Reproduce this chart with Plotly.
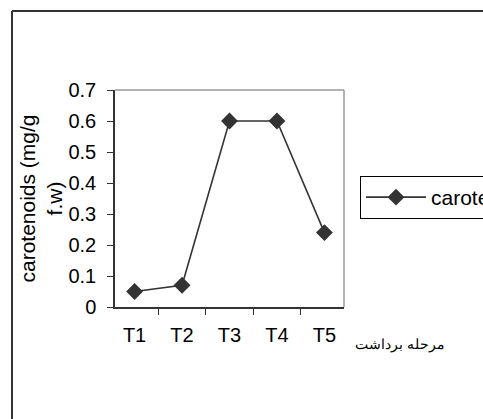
import plotly.graph_objects as go

stages = ["T1", "T2", "T3", "T4", "T5"]
carotenoids = [0.05, 0.07, 0.60, 0.60, 0.24]
series_name = "carotenoids"
y_title = "carotenoids (mg/g<br>f.w)"
x_title = "مرحله برداشت"

W, H = 483, 419
L, R, T, B = 115, 344, 90, 307

fig = go.Figure()
fig.add_trace(go.Scatter(
    x=stages, y=carotenoids, mode="lines+markers", name=series_name,
    line=dict(color="#333333", width=1.6),
    marker=dict(symbol="diamond", size=13, color="#333333"),
))

def px(xp):
    return (xp - L) / (R - L)

def py(yp):
    return (B - yp) / (B - T)

fig.update_layout(
    width=W, height=H,
    margin=dict(l=L, r=W - R, t=T, b=H - B, autoexpand=False),
    paper_bgcolor="white", plot_bgcolor="white",
    font=dict(family="Liberation Sans, Arial", size=20, color="black"),
    showlegend=True,
    legend=dict(x=px(360), y=py(176), xanchor="left", yanchor="top",
                bordercolor="black", borderwidth=1, bgcolor="white",
                font=dict(size=21), itemwidth=60),
    xaxis=dict(type="category", showgrid=False, showline=True, linecolor="#333333",
               linewidth=1.5, ticks="outside", tickson="boundaries", ticklen=6,
               tickcolor="#333333", tickfont=dict(size=20), zeroline=False,
               ticklabelstandoff=9),
    yaxis=dict(range=[0, 0.7], dtick=0.1, showgrid=False, showline=True,
               linecolor="#333333", linewidth=1.5, ticks="outside", ticklen=6,
               tickcolor="#333333", tickfont=dict(size=20), zeroline=False,
               ticklabelstandoff=7,
               title=dict(text=y_title, font=dict(size=21), standoff=0)),
    shapes=[
        dict(type="line", xref="paper", yref="paper", x0=0, x1=1, y0=1, y1=1,
             line=dict(color="#999999", width=1.5)),
        dict(type="line", xref="paper", yref="paper", x0=1, x1=1, y0=0, y1=1,
             line=dict(color="#999999", width=1.5)),
        dict(type="line", xref="paper", yref="paper", x0=px(12), x1=px(12),
             y0=py(11), y1=py(430), line=dict(color="#333333", width=2)),
        dict(type="line", xref="paper", yref="paper", x0=px(12), x1=px(500),
             y0=py(11), y1=py(11), line=dict(color="#333333", width=2)),
    ],
    annotations=[
        dict(text=x_title, xref="paper", yref="paper", x=px(400), y=py(344),
             xanchor="center", yanchor="middle", showarrow=False,
             font=dict(family="DejaVu Serif, serif", size=14)),
    ],
)

fig.write_html("out.html")
